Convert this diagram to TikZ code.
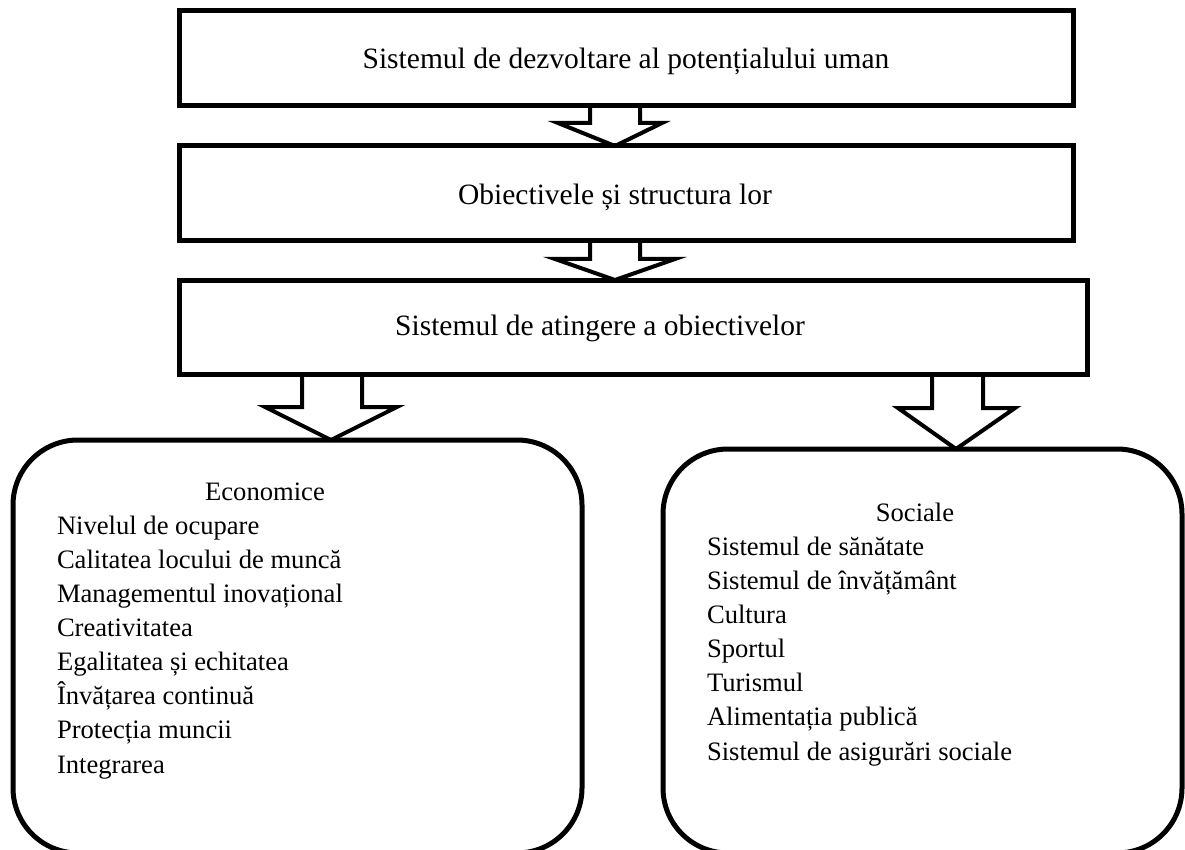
\documentclass[tikz,border=0pt]{standalone}
\usepackage{fontspec}
\setmainfont{Liberation Serif}
\usetikzlibrary{calc}
\begin{document}
\begin{tikzpicture}[x=1pt,y=-1pt,
  every node/.style={inner sep=0pt, outer sep=0pt, font=\fontsize{26.6}{34.1}\selectfont},
  plainbox/.style={draw, line width=5pt, rectangle, anchor=north west},
  softbox/.style={draw, line width=5pt, rectangle, rounded corners=65pt, anchor=north west},
  blockarrow/.style={draw, line width=4pt, line join=miter},
  caption/.style={anchor=base},
  bigcaption/.style={anchor=base, font=\fontsize{29.5}{34}\selectfont},
  listtext/.style={anchor=base west, align=left}]
\useasboundingbox (0,0) rectangle (1185,850);

% frames
\node[plainbox, minimum width=894pt, minimum height=95pt] (b1) at (179,11) {};
\node[plainbox, minimum width=894pt, minimum height=95pt] (b2) at (179,146) {};
\node[plainbox, minimum width=908pt, minimum height=94pt] (b3) at (179,280) {};
\node[softbox, minimum width=569pt, minimum height=413pt] (eco) at (13,440) {};
\node[softbox, minimum width=519pt, minimum height=404pt] (soc) at (663,449) {};

% titles
\node[bigcaption] (t1) at (626,69) {Sistemul de dezvoltare al potențialului uman};
\node[bigcaption] (t2) at (615,205) {Obiectivele și structura lor};
\node[bigcaption] (t3) at (600,335) {Sistemul de atingere a obiectivelor};

% left column (list placed by the baseline of its last line)
\node[caption] (h1) at (265,500) {Economice};
\node[listtext] (l1) at (57,773) {Nivelul de ocupare\\Calitatea locului de muncă\\Managementul inovațional\\Creativitatea\\Egalitatea și echitatea\\Învățarea continuă\\Protecția muncii\\Integrarea};

% right column
\node[caption] (h2) at (915,521) {Sociale};
\node[listtext] (l2) at (707,760) {Sistemul de sănătate\\Sistemul de învățământ\\Cultura\\Sportul\\Turismul\\Alimentația publică\\Sistemul de asigurări sociale};

% block arrows
\draw[blockarrow] let \p1=(b1.south), \p2=(b2.north) in
  (590,\y1) -- (590,123) -- (558,123) -- (615,\y2) -- (662,123) -- (640,123) -- (640,\y1);
\draw[blockarrow] let \p1=(b2.south), \p2=(b3.north) in
  (590,\y1) -- (590,259) -- (555,259) -- (615,\y2) -- (675,259) -- (640,259) -- (640,\y1);
\draw[blockarrow] let \p1=(b3.south), \p2=(eco.north) in
  (302,\y1) -- (302,407) -- (265,407) -- (331,\y2) -- (397,407) -- (362,407) -- (362,\y1);
\draw[blockarrow] let \p1=(b3.south), \p2=(soc.north) in
  (932,\y1) -- (932,408) -- (898,408) -- (956,\y2) -- (1015,408) -- (983,408) -- (983,\y1);
\end{tikzpicture}
\end{document}
